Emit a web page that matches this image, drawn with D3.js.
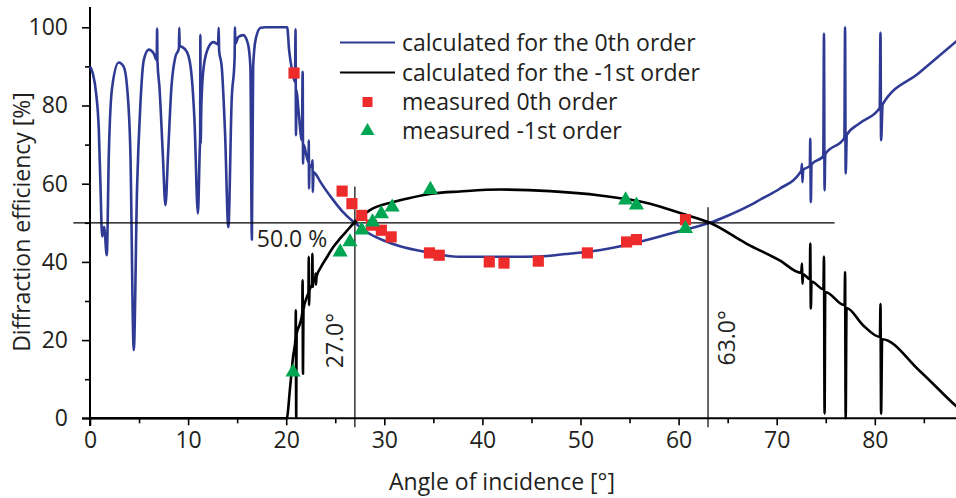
<!DOCTYPE html>
<head>
    <style>
        body {
            margin: 0;
            background-color: white;
        }

        text {
            font-family: "Open Sans", sans-serif;
            fill: #231f20;
        }
    </style>
</head>
<script src="https://cdn.jsdelivr.net/npm/d3@7"></script>

<body>
<script>
    // calculated curves, [angle, efficiency %]
    const calcZeroth = [
        [0, 90], [0.29, 88.2], [0.63, 83], [0.9, 73.7], [1.07, 59.2], [1.24, 46.5], [1.44, 48.9], [1.71, 41.7],
        [1.92, 67.7], [2.26, 84.7], [2.93, 91], [3.44, 89.9], [3.78, 84.7], [4.12, 67.7], [4.46, 17.4], [4.8, 59.2],
        [5.14, 80.5], [5.48, 91.6], [5.99, 94.3], [6.5, 93.3], [6.8, 91.6], [6.84, 99.7], [6.88, 91.1], [7.08, 84.7],
        [7.42, 67.7], [7.69, 54.5], [7.96, 67.7], [8.3, 84.7], [8.7, 92.4], [9.06, 94.6], [9.1, 99.9], [9.14, 95.2],
        [9.37, 95], [9.88, 93.7], [10.3, 89], [10.65, 76.2], [11.0, 52.4], [11.18, 68], [11.23, 72], [11.25, 98],
        [11.28, 70.3], [11.35, 80], [11.59, 89.9], [12.1, 95], [12.6, 96.2], [13.05, 95.6], [13.12, 99.9], [13.16, 94.1],
        [13.43, 89.9], [13.77, 72.8], [14.1, 48.9], [14.44, 81.3], [14.74, 92], [14.78, 100], [14.82, 95.8], [15.12, 97.5],
        [15.62, 98], [16.1, 95.8], [16.35, 89.9], [16.5, 45.7], [16.63, 89.9], [16.9, 97.1], [17.4, 99.9], [17.9, 100],
        [20.1, 100], [20.3, 94.1], [20.6, 89], [20.9, 86], [20.95, 99.5], [21.0, 72.4], [21.05, 84], [21.25, 78.8],
        [21.6, 71.1], [21.68, 88.6], [21.72, 65.1], [21.78, 70], [22.1, 66.8], [22.28, 65.5], [22.3, 71.1], [22.33, 58.7],
        [22.38, 64.8], [22.6, 64.3], [22.68, 66], [22.72, 57.9], [22.78, 63], [22.97, 62.6], [23.5, 60.4], [24.8, 55.8],
        [25.7, 53], [26.7, 50.6], [27, 50], [28.5, 47.2], [30, 45.4], [31.6, 44], [34.3, 42.5], [37.7, 41.3],
        [41.8, 41.3], [45.8, 41.4], [48.5, 42], [51.9, 43], [56, 45.1], [60.4, 48.1], [63.2, 50], [65, 51.8],
        [66.9, 54], [68.5, 56.2], [70.3, 58.7], [72.5, 63.3], [72.58, 65.1], [72.62, 60.4], [72.7, 63.5], [73.38, 64.6],
        [73.42, 71.5], [73.48, 55.3], [73.55, 64.9], [74.75, 67.1], [74.82, 98.4], [74.88, 58.3], [74.95, 67.5], [76.9, 71.7],
        [76.97, 100], [77.03, 62.6], [77.15, 72.5], [78.5, 75.5], [80.5, 79.4], [80.58, 98.6], [80.64, 71.1], [80.8, 80.3],
        [84.5, 88.3], [88.5, 96.8]
    ];
    const calcMinusFirst = [
        [0, 0], [20.05, 0], [20.4, 8], [20.7, 15.7], [20.95, 20.5], [20.98, 27.6], [21.02, 0.3], [21.06, 21.5],
        [21.4, 24.2], [21.64, 27], [21.67, 35.3], [21.71, 11.4], [21.76, 27.8], [22.1, 31], [22.27, 32.2], [22.3, 41.3],
        [22.33, 28.9], [22.38, 32.8], [22.64, 34.3], [22.67, 42.1], [22.71, 33.6], [22.76, 35], [22.97, 36], [23.0, 37],
        [23.03, 34.2], [23.1, 36.3], [23.5, 38.5], [24.1, 41], [24.8, 43.8], [25.5, 46], [26.2, 48], [27, 50.2],
        [28.5, 53.2], [30.9, 55.3], [32.5, 56.3], [35, 57.5], [37.7, 58], [41.8, 58.5], [46.9, 58.1], [52, 57],
        [57.1, 54.9], [60.4, 52.3], [63.2, 50], [66.9, 44.7], [70.3, 40.4], [72.5, 37.2], [72.58, 39.6], [72.62, 34.4],
        [72.7, 36.8], [73.38, 35.6], [73.42, 44.7], [73.48, 28.1], [73.55, 35], [74.76, 33], [74.82, 41.4], [74.88, 1.2],
        [74.95, 32.3], [76.92, 28.9], [76.97, 37.4], [77.03, 0], [77.12, 28.2], [78.8, 23.8], [80.52, 20.8], [80.58, 29.2],
        [80.64, 1.2], [80.75, 20.2], [84.5, 12.3], [88.2, 3.3], [89, 1.5]
    ];

    // measurements
    const measZerothAngle = [20.8, 25.7, 26.7, 27.7, 28.7, 29.7, 30.7, 34.6, 35.6, 40.7, 42.2, 45.7, 50.7, 54.7, 55.7, 60.7];
    const measZerothValue = [88.3, 58.1, 54.9, 51.9, 49.4, 48.1, 46.4, 42.3, 41.7, 40.0, 39.7, 40.2, 42.3, 45.1, 45.7, 50.8];
    const measMinusFirstAngle = [20.7, 25.5, 26.5, 27.7, 28.8, 29.7, 30.8, 34.7, 54.6, 55.7, 60.7];
    const measMinusFirstValue = [11.8, 42.5, 45.1, 48.1, 50.2, 52.3, 54.0, 58.5, 55.8, 54.5, 48.5];

    const xTicks = [0, 10, 20, 30, 40, 50, 60, 70, 80];
    const xMinorTicks = [5, 15, 25, 35, 45, 55, 65, 75, 85];
    const yTicks = [0, 20, 40, 60, 80, 100];
    const yMinorTicks = [10, 30, 50, 70, 90];

    // crossing points marked on the chart
    const crossLevel = 50;
    const crossAngles = [27, 63];

    const blue = "#2e3a94", red = "#ed2b2b", green = "#00a651";
    const W = 956, H = 498, fs = 23;

    const x = d3.scaleLinear().domain([0, 80]).range([90, 874.8]);
    const y = d3.scaleLinear().domain([0, 100]).range([418.3, 27.3]);

    const svg = d3.select("body").append("svg").attr("width", W).attr("height", H);

    // axes
    const gx = svg.append("g").attr("transform", `translate(0,${y(0)})`)
        .call(d3.axisBottom(x).tickValues(xTicks).tickSize(7).tickPadding(6));
    svg.append("g").attr("transform", `translate(0,${y(0)})`)
        .call(d3.axisBottom(x).tickValues(xMinorTicks).tickSize(5).tickFormat(""));
    const gy = svg.append("g").attr("transform", `translate(${x(0)},0)`)
        .call(d3.axisLeft(y).tickValues(yTicks).tickSize(8).tickPadding(14));
    svg.append("g").attr("transform", `translate(${x(0)},0)`)
        .call(d3.axisLeft(y).tickValues(yMinorTicks).tickSize(5).tickFormat(""));
    svg.selectAll(".domain").remove();
    svg.selectAll(".tick line").attr("stroke", "#000").attr("stroke-width", 1.6);
    svg.selectAll(".tick text").attr("font-family", "Open Sans").attr("font-size", fs).attr("fill", "#231f20");

    svg.append("line").attr("x1", 82).attr("x2", W).attr("y1", y(0)).attr("y2", y(0))
        .attr("stroke", "#000").attr("stroke-width", 2);
    svg.append("line").attr("x1", x(0)).attr("x2", x(0)).attr("y1", 7).attr("y2", 426)
        .attr("stroke", "#000").attr("stroke-width", 2);

    svg.append("text").attr("x", 502).attr("y", 490).attr("text-anchor", "middle")
        .attr("font-size", fs).text("Angle of incidence [°]");
    svg.append("text").attr("transform", "translate(30,222) rotate(-90)").attr("text-anchor", "middle")
        .attr("font-size", fs).text("Diffraction efficiency [%]");

    // curves
    const line = d3.line().x(d => x(d[0])).y(d => y(d[1])).curve(d3.curveMonotoneX);
    svg.append("path").datum(calcZeroth).attr("d", line)
        .attr("fill", "none").attr("stroke", blue).attr("stroke-width", 2.6).attr("stroke-linejoin", "round");
    svg.append("path").datum(calcMinusFirst).attr("d", line)
        .attr("fill", "none").attr("stroke", "#000").attr("stroke-width", 2.6).attr("stroke-linejoin", "round");

    // crossing guides
    svg.append("line").attr("x1", x(-1.7)).attr("x2", x(75.9)).attr("y1", y(crossLevel)).attr("y2", y(crossLevel))
        .attr("stroke", "#000").attr("stroke-width", 1.2);
    const guideTop = [59.3, 54];
    crossAngles.forEach((a, i) => {
        svg.append("line").attr("x1", x(a)).attr("x2", x(a)).attr("y1", y(guideTop[i])).attr("y2", y(-2.3))
            .attr("stroke", "#000").attr("stroke-width", 1.2);
    });
    svg.append("text").attr("x", x(17)).attr("y", y(43.7)).attr("font-size", fs).text(crossLevel.toFixed(1) + " %");
    svg.append("text").attr("transform", `translate(${x(25.8)},${y(12.8)}) rotate(-90)`)
        .attr("font-size", fs).text(crossAngles[0].toFixed(1) + "°");
    svg.append("text").attr("transform", `translate(${x(65.7)},${y(13.5)}) rotate(-90)`)
        .attr("font-size", fs).text(crossAngles[1].toFixed(1) + "°");

    // measured points
    const sq = d3.symbol().type(d3.symbolSquare).size(125);
    const tri = d3.symbol().type(d3.symbolTriangle).size(100);
    svg.append("g").selectAll("path").data(measZerothAngle).join("path")
        .attr("d", sq).attr("fill", red)
        .attr("transform", (d, i) => `translate(${x(d)},${y(measZerothValue[i])})`);
    svg.append("g").selectAll("path").data(measMinusFirstAngle).join("path")
        .attr("d", tri).attr("fill", green)
        .attr("transform", (d, i) => `translate(${x(d)},${y(measMinusFirstValue[i])})`);

    // legend
    const lg = svg.append("g");
    const legendLabels = ["calculated for the 0th order", "calculated for the -1st order", "measured 0th order", "measured -1st order"];
    const rowY = [42.5, 72.5, 102, 131];
    lg.append("line").attr("x1", 340).attr("x2", 395).attr("y1", rowY[0]).attr("y2", rowY[0]).attr("stroke", blue).attr("stroke-width", 2.2);
    lg.append("line").attr("x1", 340).attr("x2", 395).attr("y1", rowY[1]).attr("y2", rowY[1]).attr("stroke", "#000").attr("stroke-width", 2.2);
    lg.append("path").attr("d", d3.symbol().type(d3.symbolSquare).size(100)).attr("fill", red)
        .attr("transform", `translate(367.5,${rowY[2]})`);
    lg.append("path").attr("d", d3.symbol().type(d3.symbolTriangle).size(85)).attr("fill", green)
        .attr("transform", `translate(367.5,${rowY[3]})`);
    lg.selectAll("text").data(legendLabels).join("text")
        .attr("x", 402).attr("y", (d, i) => rowY[i] + 8).attr("font-size", fs).text(d => d);
</script>
</body>
